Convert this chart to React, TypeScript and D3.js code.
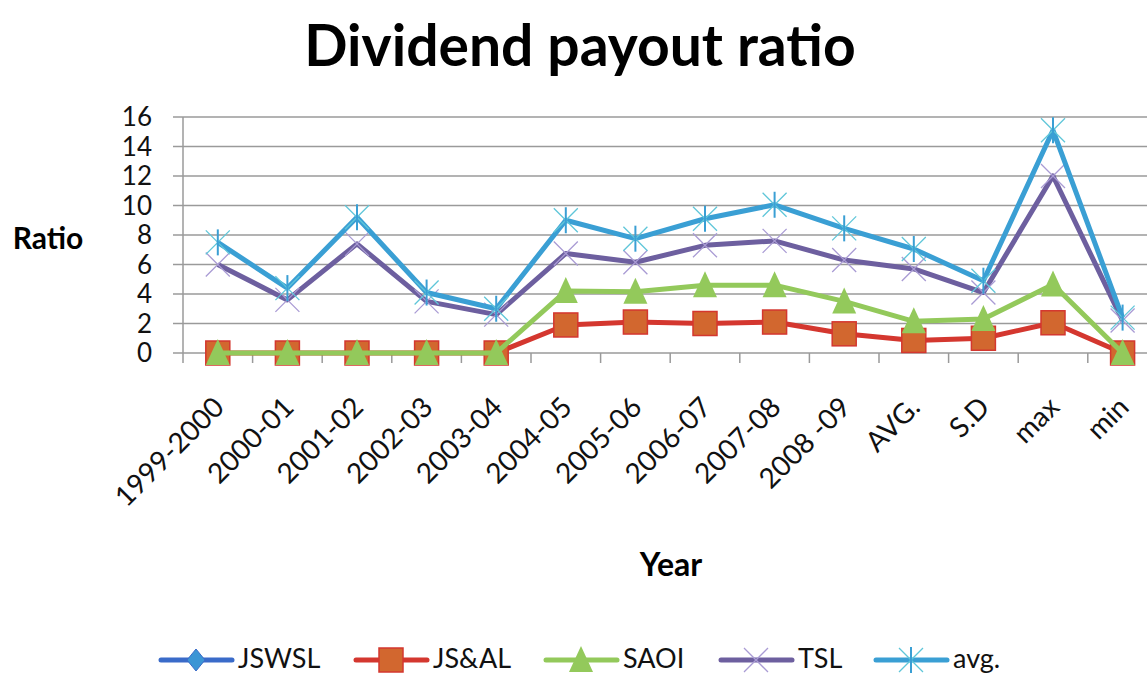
import React from "react";
import * as d3 from "d3";

const categories = ["1999-2000", "2000-01", "2001-02", "2002-03", "2003-04", "2004-05", "2005-06", "2006-07", "2007-08", "2008 -09", "AVG.", "S.D", "max", "min"];
const jswsl: (number | null)[] = [null, null, null, null, null, null, null, null, null, null, null, null, null, null];
const jsal = [0, 0, 0, 0, 0, 1.9, 2.1, 2.0, 2.1, 1.3, 0.85, 1.0, 2.05, 0];
const saoi = [0, 0, 0, 0, 0, 4.2, 4.15, 4.6, 4.6, 3.5, 2.15, 2.3, 4.65, 0];
const tsl = [6.0, 3.6, 7.4, 3.5, 2.6, 6.75, 6.15, 7.3, 7.6, 6.3, 5.7, 4.1, 12.0, 2.2];
const avg = [7.5, 4.4, 9.2, 4.1, 3.0, 9.0, 7.75, 9.1, 10.05, 8.45, 7.05, 4.9, 15.1, 2.4];
const yTicks = [0, 2, 4, 6, 8, 10, 12, 14, 16];

const FONT = "Lato, 'Open Sans', sans-serif";

type Series = { name: string; values: (number | null)[]; line: string; marker: string };
const series: Series[] = [
  { name: "JSWSL", values: jswsl, line: "#3a6bc9", marker: "diamond" },
  { name: "JS&AL", values: jsal, line: "#d4372f", marker: "square" },
  { name: "SAOI", values: saoi, line: "#93c95b", marker: "triangle" },
  { name: "TSL", values: tsl, line: "#6d5f9f", marker: "x" },
  { name: "avg.", values: avg, line: "#3a9fd4", marker: "star" },
];

function Marker({ kind, x, y }: { kind: string; x: number; y: number }) {
  if (kind === "diamond") {
    return <path d={`M${x},${y - 11}L${x + 9},${y}L${x},${y + 11}L${x - 9},${y}Z`} fill="#3b95d5" stroke="#3a6bc9" strokeWidth={1} />;
  }
  if (kind === "square") {
    return <rect x={x - 12} y={y - 12} width={24} height={24} fill="#d2672f" stroke="#d4372f" strokeWidth={1.5} />;
  }
  if (kind === "triangle") {
    return <path d={`M${x},${y - 14}L${x + 12},${y + 12}L${x - 12},${y + 12}Z`} fill="#93c95b" />;
  }
  if (kind === "x") {
    return <path d={`M${x - 12},${y - 12}L${x + 12},${y + 12}M${x + 12},${y - 12}L${x - 12},${y + 12}`} stroke="#a99bd4" strokeWidth={1.3} />;
  }
  return (
    <g stroke="#5fc6d9" strokeWidth={1.3}>
      <path d={`M${x - 12},${y - 12}L${x + 12},${y + 12}M${x + 12},${y - 12}L${x - 12},${y + 12}`} />
      <path d={`M${x},${y - 13}L${x},${y + 13}`} stroke="#3a9fd4" strokeWidth={2} />
    </g>
  );
}

export default function App() {
  const width = 1147;
  const height = 675;
  const left = 183;
  const top = 117;
  const bottom = 353;
  const x = d3.scaleBand<string>().domain(categories).range([left, left + 14 * 69.6]);
  const y = d3.scaleLinear().domain([0, 16]).range([bottom, top]);
  const cx = (c: string) => (x(c) ?? 0) + x.bandwidth() / 2;

  const line = d3
    .line<number | null>()
    .defined((d) => d !== null)
    .x((_, i) => cx(categories[i]))
    .y((d) => y(d as number));

  const legendX = [161, 356, 546, 721, 876];

  return (
    <svg width={width} height={height} style={{ position: "absolute", left: 0, top: 0, background: "#fff" }} fontFamily={FONT}>
      <text x={580} y={66} textAnchor="middle" fontSize={57} fontWeight="bold" fill="#000">
        Dividend payout ratio
      </text>

      {yTicks.map((t) => (
        <g key={t}>
          <line x1={left - 10} x2={width} y1={y(t)} y2={y(t)} stroke="#9a9a9a" strokeWidth={1.5} />
          <text x={152} y={y(t)} dy="0.36em" textAnchor="end" fontSize={26} fill="#111">
            {t}
          </text>
        </g>
      ))}
      <line x1={left} x2={left} y1={top} y2={bottom + 10} stroke="#9a9a9a" strokeWidth={1.5} />
      {categories.map((c) => (
        <line key={c} x1={(x(c) ?? 0) + x.bandwidth()} x2={(x(c) ?? 0) + x.bandwidth()} y1={bottom} y2={bottom + 10} stroke="#9a9a9a" strokeWidth={1.5} />
      ))}
      {categories.map((c) => (
        <text key={c} transform={`translate(${cx(c) + 8},${409}) rotate(-45)`} textAnchor="end" fontSize={28} fill="#111">
          {c}
        </text>
      ))}

      <text x={48} y={238} dy="0.36em" textAnchor="middle" fontSize={30} fontWeight="bold" fill="#000">
        Ratio
      </text>
      <text x={671} y={576} textAnchor="middle" fontSize={32} fontWeight="bold" fill="#000">
        Year
      </text>

      {series.map((s) => (
        <g key={s.name}>
          <path d={line(s.values) ?? ""} fill="none" stroke={s.line} strokeWidth={5} strokeLinejoin="round" />
          {s.values.map((v, i) => (v === null ? null : <Marker key={i} kind={s.marker} x={cx(categories[i])} y={y(v)} />))}
        </g>
      ))}

      {series.map((s, i) => (
        <g key={s.name}>
          <line x1={legendX[i]} x2={legendX[i] + 71} y1={660} y2={660} stroke={s.line} strokeWidth={5} strokeLinecap="round" />
          <Marker kind={s.marker} x={legendX[i] + 35} y={660} />
          <text x={legendX[i] + 77} y={668} fontSize={27} fill="#111">
            {s.name}
          </text>
        </g>
      ))}
    </svg>
  );
}
